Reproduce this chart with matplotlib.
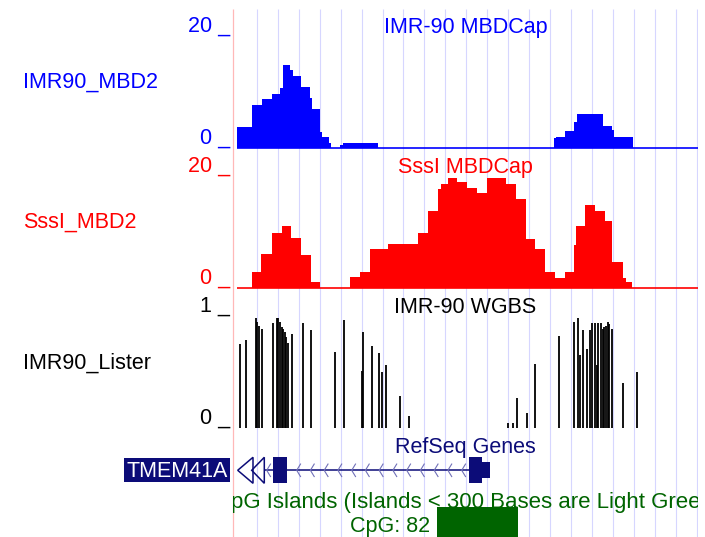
import matplotlib
matplotlib.use("Agg")
import matplotlib.pyplot as plt
from matplotlib.patches import Rectangle, Polygon
import numpy as np

plt.rcParams['font.family'] = ['Liberation Sans', 'DejaVu Sans']

W, H, DPI = 705, 537, 100
FS = 15.5

# ---------------- data (browser window in position units) ----------------
window = (0, 465)

imr90_mbd2_edges = [3.7, 18.7, 29, 39, 47, 49.7, 57, 59.7, 68, 77, 79, 87, 89, 96, 98,
                    107, 110, 145, 321, 323, 332, 341, 343.7, 370, 379, 381.3, 400]
imr90_mbd2_vals = [3.6, 7.5, 8.5, 9.4, 10.4, 14.4, 13.5, 12.5, 10.6, 8.7, 6.7, 2.7, 1.8,
                   0.7, 0, 0.4, 0.8, 0, 1.7, 1.9, 2.8, 4.4, 5.8, 3.7, 3.0, 1.8]

sssi_mbd2_edges = [19, 28, 39, 49, 58, 68, 77.7, 87, 117, 127, 136.7, 155, 185, 195, 205,
                   208, 214.7, 224, 234, 244, 253.7, 273, 283, 293, 302, 312, 321.7, 332,
                   341, 343, 352, 362, 371.7, 379, 390, 393, 399]
sssi_mbd2_vals = [2.8, 5.9, 9.6, 10.8, 8.7, 5.8, 0.9, 0, 1.8, 2.8, 6.8, 7.7, 9.6, 13.6,
                  17.4, 18.4, 19.4, 18.6, 17.6, 16.7, 19.4, 18.4, 15.7, 8.6, 6.8, 2.7, 1.7,
                  2.7, 7.5, 10.8, 14.6, 13.6, 11.8, 4.6, 1.7, 0.9]

wgbs_pos = [7, 12.7, 23, 24.5, 26, 28.7, 40.3, 43.7, 45.5, 47, 48.7, 50, 51.7, 53.3, 55,
            59.3, 70.3, 77.7, 102, 111, 128.7, 129.7, 138.7, 146, 149.3, 152.7, 167, 176,
            275.3, 279.7, 283.7, 294.3, 302, 326, 341.3, 345.3, 347, 350.3, 353.7, 357,
            359.3, 362, 363.7, 365.3, 368, 369.7, 371.3, 373, 374.7, 376.3, 378.7, 390.3,
            404.3]
wgbs_meth = [0.74, 0.77, 0.97, 0.93, 0.90, 0.87, 0.92, 0.97, 0.97, 0.93, 0.89, 0.87, 0.84,
             0.80, 0.75, 0.83, 0.92, 0.86, 0.67, 0.95, 0.50, 0.84, 0.72, 0.66, 0.49, 0.55,
             0.28, 0.10, 0.04, 0.04, 0.26, 0.13, 0.56, 0.81, 0.93, 0.97, 0.64, 0.86, 0.69,
             0.86, 0.92, 0.92, 0.55, 0.92, 0.92, 0.87, 0.89, 0.90, 0.93, 0.91, 0.87, 0.39,
             0.49]

gene_name = "TMEM41A"
gene_span = (31.3, 257.0)
gene_exons = [(40.3, 53.7), (236.0, 248.7)]
gene_utrs = [(248.7, 257.0)]
gene_chevrons = [33.7, 63.7, 77.4, 91.2, 104.9, 118.7, 132.4, 146.2, 159.9, 173.7,
                 187.4, 201.2, 214.9, 228.7]

cpg_island = (204.3, 284.7)
cpg_label = "CpG: 82"

track_labels = ["IMR90_MBD2", "SssI_MBD2", "IMR90_Lister"]
track_titles = ["IMR-90 MBDCap", "SssI MBDCap", "IMR-90 WGBS"]
track_max = [20, 20, 1]
track_colors = ['#0000ff', '#ff0000', '#000000']

NAVY = '#0c0c78'
GREEN = '#006400'
GRID = '#d6d6ff'
PINK = '#ffb8b8'

# ---------------- layout (pixels) ----------------
X0, X1 = 233, 698
track_px = [(33, 147.5), (174.5, 287.5), (314.3, 427.5)]
label_base = [87.3, 227.3, 368.3]
title_base = [33.3, 173.3, 313.3]
top_tick_base = [31.7, 171.7, 311.7]
bot_tick_base = [143.3, 283.3, 423.3]

fig = plt.figure(figsize=(W / DPI, H / DPI), dpi=DPI)
fig.patch.set_facecolor('white')


def px_axes(x0, x1, y0, y1, z=1):
    a = fig.add_axes([x0 / W, 1 - y1 / H, (x1 - x0) / W, (y1 - y0) / H], zorder=z)
    a.patch.set_alpha(0)
    a.axis('off')
    return a


canvas = px_axes(0, W, 0, H, z=0)
canvas.set_xlim(0, W)
canvas.set_ylim(H, 0)

bg = px_axes(X0, X1, 0, H, z=0.5)
bg.set_xlim(window)
bg.set_ylim(H, 0)
grid_x = 23.7 + 20.97 * np.arange(22)
bg.vlines(grid_x, 9, H, color=GRID, lw=0.8)
bg.vlines([-0.3], 9, H, color=PINK, lw=0.9, clip_on=False)

center = (window[0] + window[1]) / 2
for t, yb, c in zip(track_titles, title_base, track_colors):
    bg.text(center, yb, t, ha='center', va='baseline', color=c, fontsize=FS)
bg.text(center, 453.3, "RefSeq Genes", ha='center', va='baseline', color=NAVY, fontsize=FS)
# track title is wider than the window in the browser, so it is cut at both edges
bg.text(center + 2.5, 508.3, "CpG Islands (Islands < 300 Bases are Light Green)",
        ha='center', va='baseline', color=GREEN, fontsize=FS * 1.035, clip_on=True)

# left labels and scale labels
for i in range(3):
    canvas.text(23.3, label_base[i], track_labels[i], ha='left', va='baseline',
                color=track_colors[i], fontsize=FS)
    canvas.text(230, top_tick_base[i], f"{track_max[i]} _", ha='right', va='baseline',
                color=track_colors[i], fontsize=FS)
    canvas.text(230, bot_tick_base[i], "0 _", ha='right', va='baseline',
                color=track_colors[i], fontsize=FS)

# ---------------- signal tracks ----------------
ax1 = px_axes(X0, X1, *track_px[0], z=2)
ax1.set_xlim(window)
ax1.set_ylim(0, track_max[0])
ax1.stairs(imr90_mbd2_vals, imr90_mbd2_edges, fill=True, color=track_colors[0],
           lw=0, antialiased=False)
ax1.hlines(0, imr90_mbd2_edges[0], window[1], color=track_colors[0], lw=1.2, clip_on=False)

ax2 = px_axes(X0, X1, *track_px[1], z=2)
ax2.set_xlim(window)
ax2.set_ylim(0, track_max[1])
ax2.stairs(sssi_mbd2_vals, sssi_mbd2_edges, fill=True, color=track_colors[1],
           lw=0, antialiased=False)
ax2.hlines(0, imr90_mbd2_edges[0], window[1], color=track_colors[1], lw=1.2, clip_on=False)

ax3 = px_axes(X0, X1, *track_px[2], z=2)
ax3.set_xlim(window)
ax3.set_ylim(0, track_max[2])
ax3.vlines(wgbs_pos, 0, wgbs_meth, color=track_colors[2], lw=1.3, clip_on=False)

# ---------------- gene track ----------------
gx = px_axes(X0, X1, 457.3, 483.3, z=2)
gx.set_xlim(window)
gx.set_ylim(0, 1)
gx.hlines(0.5, gene_span[0], gene_exons[-1][0], color=NAVY, lw=1.1)
for c in gene_chevrons:
    gx.plot([c + 3.8, c, c + 3.8], [0.74, 0.5, 0.26], color='#7070b8', lw=0.8)
for s, e in gene_exons:
    gx.add_patch(Rectangle((s, 0), e - s, 1, fc=NAVY, ec='none', antialiased=False))
for s, e in gene_utrs:
    gx.add_patch(Rectangle((s, 0.19), e - s, 0.62, fc=NAVY, ec='none', antialiased=False))
# off-window continuation markers (gene extends past left edge)
for tip, base in [(window[0] + 4.7, window[0] + 20.0), (window[0] + 18.7, gene_span[0])]:
    gx.add_patch(Polygon([(tip, 0.5), (base, 1.0), (base, 0.0)], closed=True,
                         fill=False, ec=NAVY, lw=1.1, clip_on=False))

canvas.add_patch(Rectangle((124.3, 457.7), 105.7, 24, fc=NAVY, ec='none'))
canvas.text(228.3, 477.3, gene_name, ha='right', va='baseline', color='white', fontsize=FS)

# ---------------- CpG islands ----------------
cx = px_axes(X0, X1, 512.3, 537, z=2)
cx.set_xlim(window)
cx.set_ylim(0, 1)
cx.add_patch(Rectangle((cpg_island[0], 0), cpg_island[1] - cpg_island[0], 1.2,
                       fc=GREEN, ec='none', antialiased=False, clip_on=False))
cx.annotate(cpg_label, xy=(cpg_island[0], 0), xycoords='data', xytext=(-7, 5.3),
            textcoords='offset pixels', ha='right', va='baseline', color=GREEN,
            fontsize=FS, annotation_clip=False)

fig.savefig("out.png", dpi=DPI, facecolor='white')
